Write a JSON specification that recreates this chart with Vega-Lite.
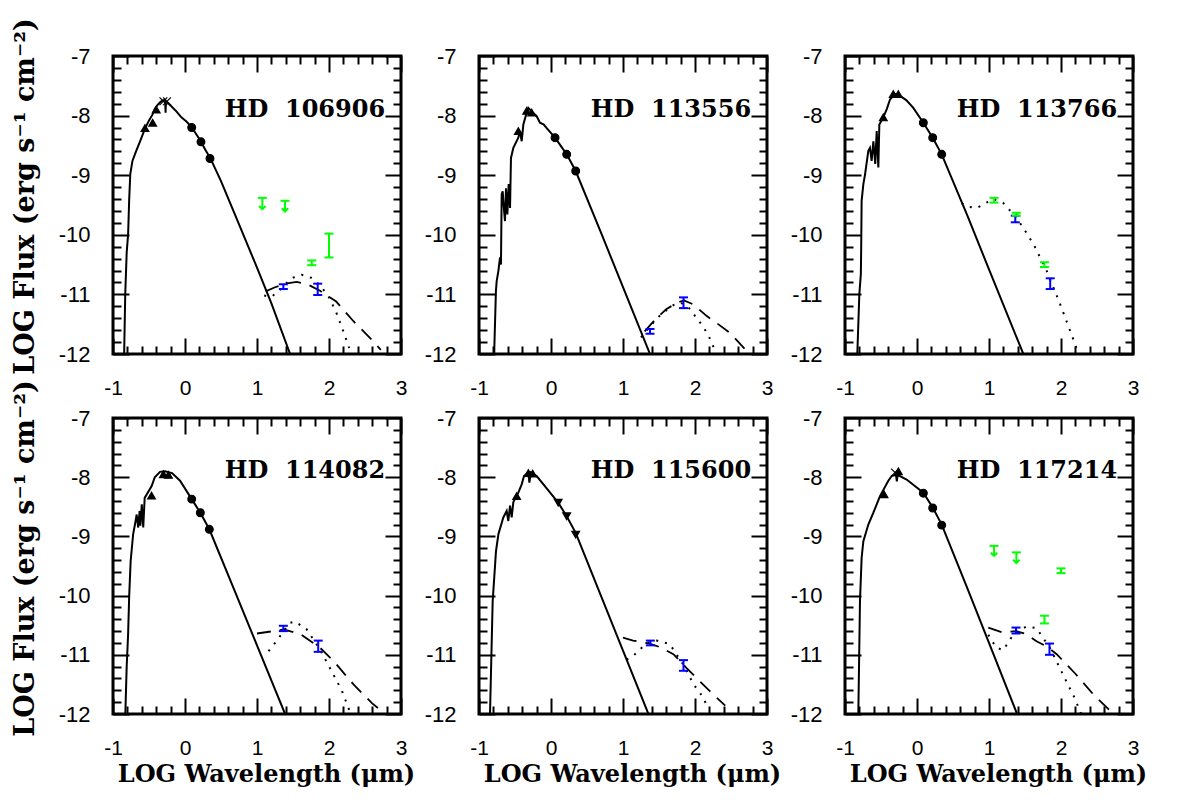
{
"$schema":"https://vega.github.io/schema/vega-lite/v6.json",
"padding":{"left":9,"top":16,"right":5,"bottom":5},
"background":"white",
"datasets":{
"HD 106906":[
{"k":"star","x":-0.85,"y":-12.3},{"k":"star","x":-0.83,"y":-11.0},{"k":"star","x":-0.81,"y":-10.3},{"k":"star","x":-0.79,"y":-9.99},{"k":"star","x":-0.775,"y":-9.4},{"k":"star","x":-0.76,"y":-8.98},{"k":"star","x":-0.73,"y":-8.76},{"k":"star","x":-0.68,"y":-8.6},{"k":"star","x":-0.62,"y":-8.42},{"k":"star","x":-0.56,"y":-8.23},{"k":"star","x":-0.5,"y":-8.08},{"k":"star","x":-0.45,"y":-7.98},{"k":"star","x":-0.42,"y":-7.89},{"k":"star","x":-0.38,"y":-7.82},{"k":"star","x":-0.34,"y":-7.77},{"k":"star","x":-0.3,"y":-7.74},{"k":"star","x":-0.275,"y":-7.75},{"k":"star","x":-0.27,"y":-7.95},{"k":"star","x":-0.265,"y":-7.76},{"k":"star","x":-0.2,"y":-7.83},{"k":"star","x":-0.12,"y":-7.93},{"k":"star","x":-0.05,"y":-8.03},{"k":"star","x":0.02,"y":-8.1},{"k":"star","x":0.09,"y":-8.19},{"k":"star","x":0.15,"y":-8.3},{"k":"star","x":0.22,"y":-8.43},{"k":"star","x":0.28,"y":-8.57},{"k":"star","x":0.35,"y":-8.71},{"k":"star","x":0.5,"y":-9.1},{"k":"star","x":0.7,"y":-9.68},{"k":"star","x":1.0,"y":-10.55},{"k":"star","x":1.2,"y":-11.15},{"k":"star","x":1.46,"y":-12.0},{"k":"star","x":1.5,"y":-12.13},
{"k":"phot","s":"tri","x":-0.556,"y":-8.21},{"k":"phot","s":"tri","x":-0.449,"y":-8.12},{"k":"phot","s":"tri","x":-0.4,"y":-7.9},{"k":"phot","s":"cross","x":-0.3,"y":-7.76},{"k":"phot","s":"cross","x":-0.25,"y":-7.76},{"k":"phot","s":"circ","x":0.093,"y":-8.2},{"k":"phot","s":"circ","x":0.222,"y":-8.44},{"k":"phot","s":"circ","x":0.347,"y":-8.72},
{"k":"dash","x":1.12,"y":-10.95},{"k":"dash","x":1.25,"y":-10.88},{"k":"dash","x":1.4,"y":-10.82},{"k":"dash","x":1.55,"y":-10.79},{"k":"dash","x":1.7,"y":-10.83},{"k":"dash","x":1.875,"y":-10.94},{"k":"dash","x":2.1,"y":-11.12},{"k":"dash","x":2.34,"y":-11.45},{"k":"dash","x":2.6,"y":-11.77},{"k":"dash","x":2.72,"y":-11.93},
{"k":"dot","x":1.1,"y":-11.02},{"k":"dot","x":1.2,"y":-11.04},{"k":"dot","x":1.3,"y":-10.95},{"k":"dot","x":1.4,"y":-10.82},{"k":"dot","x":1.5,"y":-10.72},{"k":"dot","x":1.62,"y":-10.67},{"k":"dot","x":1.75,"y":-10.72},{"k":"dot","x":1.88,"y":-10.85},{"k":"dot","x":2.0,"y":-11.05},{"k":"dot","x":2.1,"y":-11.3},{"k":"dot","x":2.2,"y":-11.62},{"k":"dot","x":2.28,"y":-11.9},
{"k":"err","c":"MIPS","x":1.366,"lo":-10.91,"hi":-10.83},{"k":"err","c":"MIPS","x":1.843,"lo":-11.01,"hi":-10.82},{"k":"err","c":"IRAS","x":1.76,"lo":-10.51,"hi":-10.43},{"k":"err","c":"IRAS","x":2.0,"lo":-10.38,"hi":-9.98},
{"k":"ul","c":"IRAS","x":1.074,"lo":-9.57,"hi":-9.38},{"k":"ul","c":"IRAS","x":1.389,"lo":-9.61,"hi":-9.43},
{"k":"label","label":"HD\u00a0\u00a0106906"}
],
"HD 113556":[
{"k":"star","x":-0.79,"y":-12.3},{"k":"star","x":-0.787,"y":-11.89},{"k":"star","x":-0.765,"y":-10.95},{"k":"star","x":-0.755,"y":-10.78},{"k":"star","x":-0.73,"y":-10.6},{"k":"star","x":-0.708,"y":-10.38},{"k":"star","x":-0.695,"y":-10.5},{"k":"star","x":-0.685,"y":-9.32},{"k":"star","x":-0.671,"y":-9.27},{"k":"star","x":-0.655,"y":-9.55},{"k":"star","x":-0.639,"y":-9.77},{"k":"star","x":-0.625,"y":-9.22},{"k":"star","x":-0.606,"y":-9.66},{"k":"star","x":-0.588,"y":-9.15},{"k":"star","x":-0.569,"y":-9.55},{"k":"star","x":-0.556,"y":-8.71},{"k":"star","x":-0.523,"y":-8.54},{"k":"star","x":-0.454,"y":-8.37},{"k":"star","x":-0.431,"y":-8.26},{"k":"star","x":-0.407,"y":-8.43},{"k":"star","x":-0.384,"y":-8.15},{"k":"star","x":-0.338,"y":-7.95},{"k":"star","x":-0.315,"y":-7.87},{"k":"star","x":-0.269,"y":-7.93},{"k":"star","x":-0.199,"y":-8.01},{"k":"star","x":-0.153,"y":-8.12},{"k":"star","x":-0.1,"y":-8.15},{"k":"star","x":-0.06,"y":-8.21},{"k":"star","x":0.056,"y":-8.37},{"k":"star","x":0.218,"y":-8.65},{"k":"star","x":0.343,"y":-8.93},{"k":"star","x":0.7,"y":-9.98},{"k":"star","x":1.0,"y":-10.88},{"k":"star","x":1.375,"y":-12.0},{"k":"star","x":1.42,"y":-12.13},
{"k":"phot","s":"tri","x":-0.454,"y":-8.26},{"k":"phot","s":"tri","x":-0.338,"y":-7.92},{"k":"phot","s":"tri","x":-0.269,"y":-7.95},{"k":"phot","s":"circ","x":0.056,"y":-8.37},{"k":"phot","s":"circ","x":0.218,"y":-8.65},{"k":"phot","s":"circ","x":0.343,"y":-8.93},
{"k":"dash","x":1.3,"y":-11.62},{"k":"dash","x":1.45,"y":-11.42},{"k":"dash","x":1.6,"y":-11.25},{"k":"dash","x":1.75,"y":-11.14},{"k":"dash","x":1.85,"y":-11.1},{"k":"dash","x":1.98,"y":-11.17},{"k":"dash","x":2.16,"y":-11.36},{"k":"dash","x":2.3,"y":-11.48},{"k":"dash","x":2.49,"y":-11.65},{"k":"dash","x":2.74,"y":-11.98},
{"k":"dot","x":1.25,"y":-11.72},{"k":"dot","x":1.4,"y":-11.5},{"k":"dot","x":1.5,"y":-11.37},{"k":"dot","x":1.6,"y":-11.27},{"k":"dot","x":1.7,"y":-11.18},{"k":"dot","x":1.8,"y":-11.14},{"k":"dot","x":1.9,"y":-11.2},{"k":"dot","x":1.98,"y":-11.33},{"k":"dot","x":2.1,"y":-11.52},{"k":"dot","x":2.18,"y":-11.67},{"k":"dot","x":2.3,"y":-12.0},
{"k":"err","c":"MIPS","x":1.375,"lo":-11.66,"hi":-11.58},{"k":"err","c":"MIPS","x":1.84,"lo":-11.23,"hi":-11.05},
{"k":"label","label":"HD\u00a0\u00a0113556"}
],
"HD 113766":[
{"k":"star","x":-0.835,"y":-12.3},{"k":"star","x":-0.829,"y":-12.0},{"k":"star","x":-0.801,"y":-11.0},{"k":"star","x":-0.78,"y":-10.66},{"k":"star","x":-0.775,"y":-10.2},{"k":"star","x":-0.769,"y":-9.43},{"k":"star","x":-0.745,"y":-9.15},{"k":"star","x":-0.722,"y":-8.99},{"k":"star","x":-0.676,"y":-8.59},{"k":"star","x":-0.653,"y":-8.54},{"k":"star","x":-0.63,"y":-8.76},{"k":"star","x":-0.606,"y":-8.43},{"k":"star","x":-0.58,"y":-8.81},{"k":"star","x":-0.56,"y":-8.26},{"k":"star","x":-0.537,"y":-8.87},{"k":"star","x":-0.523,"y":-8.15},{"k":"star","x":-0.468,"y":-8.03},{"k":"star","x":-0.42,"y":-7.89},{"k":"star","x":-0.375,"y":-7.73},{"k":"star","x":-0.306,"y":-7.64},{"k":"star","x":-0.26,"y":-7.65},{"k":"star","x":-0.15,"y":-7.74},{"k":"star","x":-0.051,"y":-7.87},{"k":"star","x":0.088,"y":-8.12},{"k":"star","x":0.218,"y":-8.37},{"k":"star","x":0.343,"y":-8.65},{"k":"star","x":0.7,"y":-9.68},{"k":"star","x":1.0,"y":-10.58},{"k":"star","x":1.477,"y":-12.0},{"k":"star","x":1.52,"y":-12.13},
{"k":"phot","s":"tri","x":-0.468,"y":-8.03},{"k":"phot","s":"tri","x":-0.33,"y":-7.64},{"k":"phot","s":"tri","x":-0.26,"y":-7.64},{"k":"phot","s":"circ","x":0.088,"y":-8.12},{"k":"phot","s":"circ","x":0.218,"y":-8.37},{"k":"phot","s":"circ","x":0.343,"y":-8.65},
{"k":"dot","x":0.62,"y":-9.47},{"k":"dot","x":0.72,"y":-9.53},{"k":"dot","x":0.83,"y":-9.55},{"k":"dot","x":0.95,"y":-9.47},{"k":"dot","x":1.06,"y":-9.4},{"k":"dot","x":1.2,"y":-9.47},{"k":"dot","x":1.38,"y":-9.71},{"k":"dot","x":1.5,"y":-9.93},{"k":"dot","x":1.62,"y":-10.16},{"k":"dot","x":1.8,"y":-10.6},{"k":"dot","x":1.99,"y":-11.17},{"k":"dot","x":2.17,"y":-11.75},{"k":"dot","x":2.25,"y":-12.02},
{"k":"err","c":"IRAS","x":1.07,"lo":-9.46,"hi":-9.38},{"k":"err","c":"IRAS","x":1.38,"lo":-9.68,"hi":-9.63},{"k":"err","c":"IRAS","x":1.77,"lo":-10.54,"hi":-10.46},{"k":"err","c":"MIPS","x":1.365,"lo":-9.79,"hi":-9.68},{"k":"err","c":"MIPS","x":1.85,"lo":-10.91,"hi":-10.73},
{"k":"label","label":"HD\u00a0\u00a0113766"}
],
"HD 114082":[
{"k":"star","x":-0.835,"y":-12.3},{"k":"star","x":-0.83,"y":-12.05},{"k":"star","x":-0.81,"y":-11.2},{"k":"star","x":-0.79,"y":-10.65},{"k":"star","x":-0.775,"y":-10.0},{"k":"star","x":-0.755,"y":-9.42},{"k":"star","x":-0.72,"y":-8.96},{"k":"star","x":-0.695,"y":-8.8},{"k":"star","x":-0.671,"y":-8.63},{"k":"star","x":-0.65,"y":-8.85},{"k":"star","x":-0.63,"y":-8.57},{"k":"star","x":-0.62,"y":-8.82},{"k":"star","x":-0.6,"y":-8.46},{"k":"star","x":-0.58,"y":-8.85},{"k":"star","x":-0.56,"y":-8.35},{"k":"star","x":-0.463,"y":-8.15},{"k":"star","x":-0.42,"y":-8.0},{"k":"star","x":-0.347,"y":-7.91},{"k":"star","x":-0.278,"y":-7.9},{"k":"star","x":-0.18,"y":-7.93},{"k":"star","x":-0.069,"y":-8.06},{"k":"star","x":0.093,"y":-8.37},{"k":"star","x":0.213,"y":-8.6},{"k":"star","x":0.338,"y":-8.88},{"k":"star","x":0.7,"y":-9.95},{"k":"star","x":1.0,"y":-10.84},{"k":"star","x":1.39,"y":-12.0},{"k":"star","x":1.43,"y":-12.12},
{"k":"phot","s":"tri","x":-0.465,"y":-8.31},{"k":"phot","s":"tri","x":-0.3,"y":-7.95},{"k":"phot","s":"tri","x":-0.23,"y":-7.96},{"k":"phot","s":"circ","x":0.093,"y":-8.37},{"k":"phot","s":"circ","x":0.213,"y":-8.6},{"k":"phot","s":"circ","x":0.338,"y":-8.88},
{"k":"dash","x":1.0,"y":-10.64},{"k":"dash","x":1.23,"y":-10.6},{"k":"dash","x":1.37,"y":-10.57},{"k":"dash","x":1.6,"y":-10.65},{"k":"dash","x":1.875,"y":-10.88},{"k":"dash","x":2.06,"y":-11.1},{"k":"dash","x":2.34,"y":-11.5},{"k":"dash","x":2.6,"y":-11.82},{"k":"dash","x":2.73,"y":-11.95},
{"k":"dot","x":1.16,"y":-10.94},{"k":"dot","x":1.27,"y":-10.77},{"k":"dot","x":1.37,"y":-10.6},{"k":"dot","x":1.46,"y":-10.46},{"k":"dot","x":1.53,"y":-10.44},{"k":"dot","x":1.69,"y":-10.57},{"k":"dot","x":1.875,"y":-10.91},{"k":"dot","x":2.06,"y":-11.33},{"k":"dot","x":2.18,"y":-11.61},{"k":"dot","x":2.28,"y":-11.93},
{"k":"err","c":"MIPS","x":1.366,"lo":-10.6,"hi":-10.51},{"k":"err","c":"MIPS","x":1.85,"lo":-10.95,"hi":-10.76},
{"k":"label","label":"HD\u00a0\u00a0114082"}
],
"HD 115600":[
{"k":"star","x":-0.85,"y":-12.3},{"k":"star","x":-0.847,"y":-11.99},{"k":"star","x":-0.81,"y":-10.09},{"k":"star","x":-0.764,"y":-9.25},{"k":"star","x":-0.73,"y":-8.96},{"k":"star","x":-0.662,"y":-8.68},{"k":"star","x":-0.616,"y":-8.57},{"k":"star","x":-0.593,"y":-8.74},{"k":"star","x":-0.569,"y":-8.48},{"k":"star","x":-0.546,"y":-8.68},{"k":"star","x":-0.523,"y":-8.42},{"k":"star","x":-0.454,"y":-8.26},{"k":"star","x":-0.407,"y":-8.12},{"k":"star","x":-0.375,"y":-7.98},{"k":"star","x":-0.315,"y":-7.92},{"k":"star","x":-0.3,"y":-8.09},{"k":"star","x":-0.28,"y":-7.92},{"k":"star","x":-0.199,"y":-7.98},{"k":"star","x":-0.06,"y":-8.19},{"k":"star","x":0.1,"y":-8.43},{"k":"star","x":0.218,"y":-8.66},{"k":"star","x":0.343,"y":-8.94},{"k":"star","x":0.7,"y":-10.02},{"k":"star","x":1.0,"y":-10.93},{"k":"star","x":1.35,"y":-11.99},{"k":"star","x":1.39,"y":-12.12},
{"k":"phot","s":"tri","x":-0.477,"y":-8.32},{"k":"phot","s":"tri","x":-0.315,"y":-7.93},{"k":"phot","s":"tri","x":-0.255,"y":-7.94},{"k":"phot","s":"tridown","x":0.1,"y":-8.43},{"k":"phot","s":"tridown","x":0.218,"y":-8.66},{"k":"phot","s":"tridown","x":0.343,"y":-8.97},
{"k":"dash","x":1.0,"y":-10.71},{"k":"dash","x":1.14,"y":-10.76},{"k":"dash","x":1.37,"y":-10.81},{"k":"dash","x":1.51,"y":-10.87},{"k":"dash","x":1.7,"y":-10.99},{"k":"dash","x":1.88,"y":-11.22},{"k":"dash","x":2.16,"y":-11.56},{"k":"dash","x":2.42,"y":-11.86},
{"k":"dot","x":1.05,"y":-11.08},{"k":"dot","x":1.14,"y":-11.02},{"k":"dot","x":1.33,"y":-10.8},{"k":"dot","x":1.47,"y":-10.76},{"k":"dot","x":1.65,"y":-10.82},{"k":"dot","x":1.84,"y":-11.17},{"k":"dot","x":1.98,"y":-11.5},{"k":"dot","x":2.12,"y":-11.73},{"k":"dot","x":2.18,"y":-11.92},
{"k":"err","c":"MIPS","x":1.38,"lo":-10.84,"hi":-10.76},{"k":"err","c":"MIPS","x":1.84,"lo":-11.27,"hi":-11.09},
{"k":"label","label":"HD\u00a0\u00a0115600"}
],
"HD 117214":[
{"k":"star","x":-0.82,"y":-12.3},{"k":"star","x":-0.815,"y":-12.0},{"k":"star","x":-0.792,"y":-10.09},{"k":"star","x":-0.769,"y":-9.36},{"k":"star","x":-0.745,"y":-9.08},{"k":"star","x":-0.676,"y":-8.8},{"k":"star","x":-0.606,"y":-8.6},{"k":"star","x":-0.514,"y":-8.32},{"k":"star","x":-0.398,"y":-8.06},{"k":"star","x":-0.352,"y":-7.98},{"k":"star","x":-0.292,"y":-7.96},{"k":"star","x":-0.28,"y":-8.07},{"k":"star","x":-0.27,"y":-7.96},{"k":"star","x":-0.144,"y":-8.04},{"k":"star","x":0.088,"y":-8.26},{"k":"star","x":0.218,"y":-8.51},{"k":"star","x":0.343,"y":-8.8},{"k":"star","x":0.7,"y":-9.88},{"k":"star","x":1.0,"y":-10.8},{"k":"star","x":1.39,"y":-12.0},{"k":"star","x":1.43,"y":-12.12},
{"k":"phot","s":"tri","x":-0.458,"y":-8.29},{"k":"phot","s":"cross","x":-0.306,"y":-7.92},{"k":"phot","s":"tri","x":-0.259,"y":-7.9},{"k":"phot","s":"circ","x":0.088,"y":-8.27},{"k":"phot","s":"circ","x":0.218,"y":-8.52},{"k":"phot","s":"circ","x":0.343,"y":-8.81},
{"k":"dash","x":0.99,"y":-10.54},{"k":"dash","x":1.18,"y":-10.62},{"k":"dash","x":1.37,"y":-10.6},{"k":"dash","x":1.5,"y":-10.64},{"k":"dash","x":1.66,"y":-10.77},{"k":"dash","x":1.8,"y":-10.86},{"k":"dash","x":1.94,"y":-10.99},{"k":"dash","x":2.2,"y":-11.32},{"k":"dash","x":2.45,"y":-11.67},{"k":"dash","x":2.73,"y":-12.0},
{"k":"dot","x":0.99,"y":-10.66},{"k":"dot","x":1.1,"y":-10.88},{"k":"dot","x":1.2,"y":-10.92},{"k":"dot","x":1.34,"y":-10.65},{"k":"dot","x":1.52,"y":-10.52},{"k":"dot","x":1.66,"y":-10.55},{"k":"dot","x":1.85,"y":-10.89},{"k":"dot","x":2.03,"y":-11.34},{"k":"dot","x":2.19,"y":-11.73},{"k":"dot","x":2.28,"y":-12.0},
{"k":"err","c":"MIPS","x":1.375,"lo":-10.64,"hi":-10.54},{"k":"err","c":"MIPS","x":1.84,"lo":-11.0,"hi":-10.81},{"k":"err","c":"IRAS","x":2.0,"lo":-9.62,"hi":-9.54},{"k":"err","c":"IRAS","x":1.77,"lo":-10.47,"hi":-10.34},
{"k":"ul","c":"IRAS","x":1.07,"lo":-9.33,"hi":-9.16},{"k":"ul","c":"IRAS","x":1.38,"lo":-9.45,"hi":-9.27},
{"k":"label","label":"HD\u00a0\u00a0117214"}
]
},
"columns":3,
"spacing":{"row":64,"column":78},
"bounds":"flush",
"concat":[
{"width":288,"height":298,"data":{"name":"HD 106906"},"resolve":{"axis":{"x":"independent","y":"independent"}},
"layer":[
{"transform":[{"filter":"datum.k==='star'"}],"mark":{"type":"line","color":"black","strokeWidth":2,"clip":true},
 "encoding":{"x":{"field":"x","type":"quantitative","scale":{"domain":[-1,3],"nice":false,"zero":false},"axis":{"orient":"bottom","values":[-1,0,1,2,3],"offset":-16,"tickSize":16,"labelPadding":23,"labelExpr":"datum.value < 0 ? '-' + abs(datum.value) : '' + datum.value","title":null}},
 "y":{"field":"y","type":"quantitative","scale":{"domain":[-12,-7],"nice":false,"zero":false},"axis":{"orient":"left","values":[-12,-11,-10,-9,-8,-7],"offset":-16,"tickSize":16,"labelPadding":23,"labelExpr":"datum.value < 0 ? '-' + abs(datum.value) : '' + datum.value","title":"LOG Flux (erg s⁻¹ cm⁻²)"}}}},
{"transform":[{"filter":"datum.k==='dash'"}],"mark":{"type":"line","color":"black","strokeWidth":1.8,"strokeDash":[14,9],"clip":true},
 "encoding":{"x":{"field":"x","type":"quantitative","scale":{"domain":[-1,3],"nice":false,"zero":false},"axis":null},"y":{"field":"y","type":"quantitative","scale":{"domain":[-12,-7],"nice":false,"zero":false},"axis":null}}},
{"transform":[{"filter":"datum.k==='dot'"}],"mark":{"type":"line","color":"black","strokeWidth":2,"strokeDash":[2,7],"clip":true},
 "encoding":{"x":{"field":"x","type":"quantitative","scale":{"domain":[-1,3],"nice":false,"zero":false},"axis":null},"y":{"field":"y","type":"quantitative","scale":{"domain":[-12,-7],"nice":false,"zero":false},"axis":null}}},
{"transform":[{"filter":"datum.k==='phot'"}],"mark":{"type":"point","filled":true,"color":"black","stroke":"black","strokeWidth":1.2,"size":60,"opacity":1},
 "encoding":{"x":{"field":"x","type":"quantitative","scale":{"domain":[-1,3],"nice":false,"zero":false},"axis":{"orient":"bottom","values":[-0.8,-0.6,-0.4,-0.2,0.2,0.4,0.6,0.8,1.2,1.4,1.6,1.8,2.2,2.4,2.6,2.8],"offset":-8,"tickSize":8,"labels":false,"title":null}},
 "y":{"field":"y","type":"quantitative","scale":{"domain":[-12,-7],"nice":false,"zero":false},"axis":{"orient":"left","values":[-11.8,-11.6,-11.4,-11.2,-10.8,-10.6,-10.4,-10.2,-9.8,-9.6,-9.4,-9.2,-8.8,-8.6,-8.4,-8.2,-7.8,-7.6,-7.4,-7.2],"offset":-8,"tickSize":8,"labels":false,"title":null}},
 "shape":{"field":"s","type":"nominal","scale":{"domain":["tri","cross","circ","tridown"],"range":["triangle-up","M-1,-1L1,1M-1,1L1,-1","circle","triangle-down"]},"legend":null}}},
{"transform":[{"filter":"datum.k==='err'||datum.k==='ul'"}],"mark":{"type":"rule","strokeWidth":2},
 "encoding":{"x":{"field":"x","type":"quantitative","scale":{"domain":[-1,3],"nice":false,"zero":false},"axis":{"orient":"top","values":[-1,0,1,2,3],"offset":-16,"tickSize":16,"labels":false,"title":null}},
 "y":{"field":"lo","type":"quantitative","scale":{"domain":[-12,-7],"nice":false,"zero":false},"axis":{"orient":"right","values":[-12,-11,-10,-9,-8,-7],"offset":-16,"tickSize":16,"labels":false,"title":null}},
 "y2":{"field":"hi"},
 "color":{"field":"c","type":"nominal","scale":{"domain":["MIPS","IRAS"],"range":["#0000ff","#00ff00"]},"legend":null}}},
{"transform":[{"filter":"datum.k==='err'||datum.k==='ul'"}],"mark":{"type":"point","shape":"stroke","size":81,"strokeWidth":2,"filled":false,"opacity":1},
 "encoding":{"x":{"field":"x","type":"quantitative","scale":{"domain":[-1,3],"nice":false,"zero":false},"axis":{"orient":"top","values":[-0.8,-0.6,-0.4,-0.2,0.2,0.4,0.6,0.8,1.2,1.4,1.6,1.8,2.2,2.4,2.6,2.8],"offset":-8,"tickSize":8,"labels":false,"title":null}},
 "y":{"field":"hi","type":"quantitative","scale":{"domain":[-12,-7],"nice":false,"zero":false},"axis":{"orient":"right","values":[-11.8,-11.6,-11.4,-11.2,-10.8,-10.6,-10.4,-10.2,-9.8,-9.6,-9.4,-9.2,-8.8,-8.6,-8.4,-8.2,-7.8,-7.6,-7.4,-7.2],"offset":-8,"tickSize":8,"labels":false,"title":null}},
 "color":{"field":"c","type":"nominal","scale":{"domain":["MIPS","IRAS"],"range":["#0000ff","#00ff00"]},"legend":null}}},
{"transform":[{"filter":"datum.k==='err'"}],"mark":{"type":"point","shape":"stroke","size":81,"strokeWidth":2,"filled":false,"opacity":1},
 "encoding":{"x":{"field":"x","type":"quantitative","scale":{"domain":[-1,3],"nice":false,"zero":false},"axis":null},"y":{"field":"lo","type":"quantitative","scale":{"domain":[-12,-7],"nice":false,"zero":false},"axis":null},
 "color":{"field":"c","type":"nominal","scale":{"domain":["MIPS","IRAS"],"range":["#0000ff","#00ff00"]},"legend":null}}},
{"transform":[{"filter":"datum.k==='ul'"}],"mark":{"type":"point","shape":"M-1,-1L0,0L1,-1","size":42,"strokeWidth":2,"filled":false,"opacity":1},
 "encoding":{"x":{"field":"x","type":"quantitative","scale":{"domain":[-1,3],"nice":false,"zero":false},"axis":null},"y":{"field":"lo","type":"quantitative","scale":{"domain":[-12,-7],"nice":false,"zero":false},"axis":null},
 "color":{"field":"c","type":"nominal","scale":{"domain":["MIPS","IRAS"],"range":["#0000ff","#00ff00"]},"legend":null}}},
{"transform":[{"filter":"datum.k==='label'"}],"mark":{"type":"text","align":"right","baseline":"middle","font":"DejaVu Serif","fontWeight":"bold","fontSize":24,"color":"black"},
 "encoding":{"x":{"datum":2.78,"type":"quantitative","scale":{"domain":[-1,3],"nice":false,"zero":false},"axis":null},"y":{"datum":-7.9,"type":"quantitative","scale":{"domain":[-12,-7],"nice":false,"zero":false},"axis":null},"text":{"field":"label"}}}
]},
{"width":288,"height":298,"data":{"name":"HD 113556"},"resolve":{"axis":{"x":"independent","y":"independent"}},
"layer":[
{"transform":[{"filter":"datum.k==='star'"}],"mark":{"type":"line","color":"black","strokeWidth":2,"clip":true},
 "encoding":{"x":{"field":"x","type":"quantitative","scale":{"domain":[-1,3],"nice":false,"zero":false},"axis":{"orient":"bottom","values":[-1,0,1,2,3],"offset":-16,"tickSize":16,"labelPadding":23,"labelExpr":"datum.value < 0 ? '-' + abs(datum.value) : '' + datum.value","title":null}},
 "y":{"field":"y","type":"quantitative","scale":{"domain":[-12,-7],"nice":false,"zero":false},"axis":{"orient":"left","values":[-12,-11,-10,-9,-8,-7],"offset":-16,"tickSize":16,"labelPadding":23,"labelExpr":"datum.value < 0 ? '-' + abs(datum.value) : '' + datum.value","title":null}}}},
{"transform":[{"filter":"datum.k==='dash'"}],"mark":{"type":"line","color":"black","strokeWidth":1.8,"strokeDash":[14,9],"clip":true},
 "encoding":{"x":{"field":"x","type":"quantitative","scale":{"domain":[-1,3],"nice":false,"zero":false},"axis":null},"y":{"field":"y","type":"quantitative","scale":{"domain":[-12,-7],"nice":false,"zero":false},"axis":null}}},
{"transform":[{"filter":"datum.k==='dot'"}],"mark":{"type":"line","color":"black","strokeWidth":2,"strokeDash":[2,7],"clip":true},
 "encoding":{"x":{"field":"x","type":"quantitative","scale":{"domain":[-1,3],"nice":false,"zero":false},"axis":null},"y":{"field":"y","type":"quantitative","scale":{"domain":[-12,-7],"nice":false,"zero":false},"axis":null}}},
{"transform":[{"filter":"datum.k==='phot'"}],"mark":{"type":"point","filled":true,"color":"black","stroke":"black","strokeWidth":1.2,"size":60,"opacity":1},
 "encoding":{"x":{"field":"x","type":"quantitative","scale":{"domain":[-1,3],"nice":false,"zero":false},"axis":{"orient":"bottom","values":[-0.8,-0.6,-0.4,-0.2,0.2,0.4,0.6,0.8,1.2,1.4,1.6,1.8,2.2,2.4,2.6,2.8],"offset":-8,"tickSize":8,"labels":false,"title":null}},
 "y":{"field":"y","type":"quantitative","scale":{"domain":[-12,-7],"nice":false,"zero":false},"axis":{"orient":"left","values":[-11.8,-11.6,-11.4,-11.2,-10.8,-10.6,-10.4,-10.2,-9.8,-9.6,-9.4,-9.2,-8.8,-8.6,-8.4,-8.2,-7.8,-7.6,-7.4,-7.2],"offset":-8,"tickSize":8,"labels":false,"title":null}},
 "shape":{"field":"s","type":"nominal","scale":{"domain":["tri","cross","circ","tridown"],"range":["triangle-up","M-1,-1L1,1M-1,1L1,-1","circle","triangle-down"]},"legend":null}}},
{"transform":[{"filter":"datum.k==='err'||datum.k==='ul'"}],"mark":{"type":"rule","strokeWidth":2},
 "encoding":{"x":{"field":"x","type":"quantitative","scale":{"domain":[-1,3],"nice":false,"zero":false},"axis":{"orient":"top","values":[-1,0,1,2,3],"offset":-16,"tickSize":16,"labels":false,"title":null}},
 "y":{"field":"lo","type":"quantitative","scale":{"domain":[-12,-7],"nice":false,"zero":false},"axis":{"orient":"right","values":[-12,-11,-10,-9,-8,-7],"offset":-16,"tickSize":16,"labels":false,"title":null}},
 "y2":{"field":"hi"},
 "color":{"field":"c","type":"nominal","scale":{"domain":["MIPS","IRAS"],"range":["#0000ff","#00ff00"]},"legend":null}}},
{"transform":[{"filter":"datum.k==='err'||datum.k==='ul'"}],"mark":{"type":"point","shape":"stroke","size":81,"strokeWidth":2,"filled":false,"opacity":1},
 "encoding":{"x":{"field":"x","type":"quantitative","scale":{"domain":[-1,3],"nice":false,"zero":false},"axis":{"orient":"top","values":[-0.8,-0.6,-0.4,-0.2,0.2,0.4,0.6,0.8,1.2,1.4,1.6,1.8,2.2,2.4,2.6,2.8],"offset":-8,"tickSize":8,"labels":false,"title":null}},
 "y":{"field":"hi","type":"quantitative","scale":{"domain":[-12,-7],"nice":false,"zero":false},"axis":{"orient":"right","values":[-11.8,-11.6,-11.4,-11.2,-10.8,-10.6,-10.4,-10.2,-9.8,-9.6,-9.4,-9.2,-8.8,-8.6,-8.4,-8.2,-7.8,-7.6,-7.4,-7.2],"offset":-8,"tickSize":8,"labels":false,"title":null}},
 "color":{"field":"c","type":"nominal","scale":{"domain":["MIPS","IRAS"],"range":["#0000ff","#00ff00"]},"legend":null}}},
{"transform":[{"filter":"datum.k==='err'"}],"mark":{"type":"point","shape":"stroke","size":81,"strokeWidth":2,"filled":false,"opacity":1},
 "encoding":{"x":{"field":"x","type":"quantitative","scale":{"domain":[-1,3],"nice":false,"zero":false},"axis":null},"y":{"field":"lo","type":"quantitative","scale":{"domain":[-12,-7],"nice":false,"zero":false},"axis":null},
 "color":{"field":"c","type":"nominal","scale":{"domain":["MIPS","IRAS"],"range":["#0000ff","#00ff00"]},"legend":null}}},
{"transform":[{"filter":"datum.k==='label'"}],"mark":{"type":"text","align":"right","baseline":"middle","font":"DejaVu Serif","fontWeight":"bold","fontSize":24,"color":"black"},
 "encoding":{"x":{"datum":2.78,"type":"quantitative","scale":{"domain":[-1,3],"nice":false,"zero":false},"axis":null},"y":{"datum":-7.9,"type":"quantitative","scale":{"domain":[-12,-7],"nice":false,"zero":false},"axis":null},"text":{"field":"label"}}}
]},
{"width":288,"height":298,"data":{"name":"HD 113766"},"resolve":{"axis":{"x":"independent","y":"independent"}},
"layer":[
{"transform":[{"filter":"datum.k==='star'"}],"mark":{"type":"line","color":"black","strokeWidth":2,"clip":true},
 "encoding":{"x":{"field":"x","type":"quantitative","scale":{"domain":[-1,3],"nice":false,"zero":false},"axis":{"orient":"bottom","values":[-1,0,1,2,3],"offset":-16,"tickSize":16,"labelPadding":23,"labelExpr":"datum.value < 0 ? '-' + abs(datum.value) : '' + datum.value","title":null}},
 "y":{"field":"y","type":"quantitative","scale":{"domain":[-12,-7],"nice":false,"zero":false},"axis":{"orient":"left","values":[-12,-11,-10,-9,-8,-7],"offset":-16,"tickSize":16,"labelPadding":23,"labelExpr":"datum.value < 0 ? '-' + abs(datum.value) : '' + datum.value","title":null}}}},
{"transform":[{"filter":"datum.k==='dot'"}],"mark":{"type":"line","color":"black","strokeWidth":2,"strokeDash":[2,7],"clip":true},
 "encoding":{"x":{"field":"x","type":"quantitative","scale":{"domain":[-1,3],"nice":false,"zero":false},"axis":null},"y":{"field":"y","type":"quantitative","scale":{"domain":[-12,-7],"nice":false,"zero":false},"axis":null}}},
{"transform":[{"filter":"datum.k==='phot'"}],"mark":{"type":"point","filled":true,"color":"black","stroke":"black","strokeWidth":1.2,"size":60,"opacity":1},
 "encoding":{"x":{"field":"x","type":"quantitative","scale":{"domain":[-1,3],"nice":false,"zero":false},"axis":{"orient":"bottom","values":[-0.8,-0.6,-0.4,-0.2,0.2,0.4,0.6,0.8,1.2,1.4,1.6,1.8,2.2,2.4,2.6,2.8],"offset":-8,"tickSize":8,"labels":false,"title":null}},
 "y":{"field":"y","type":"quantitative","scale":{"domain":[-12,-7],"nice":false,"zero":false},"axis":{"orient":"left","values":[-11.8,-11.6,-11.4,-11.2,-10.8,-10.6,-10.4,-10.2,-9.8,-9.6,-9.4,-9.2,-8.8,-8.6,-8.4,-8.2,-7.8,-7.6,-7.4,-7.2],"offset":-8,"tickSize":8,"labels":false,"title":null}},
 "shape":{"field":"s","type":"nominal","scale":{"domain":["tri","cross","circ","tridown"],"range":["triangle-up","M-1,-1L1,1M-1,1L1,-1","circle","triangle-down"]},"legend":null}}},
{"transform":[{"filter":"datum.k==='err'||datum.k==='ul'"}],"mark":{"type":"rule","strokeWidth":2},
 "encoding":{"x":{"field":"x","type":"quantitative","scale":{"domain":[-1,3],"nice":false,"zero":false},"axis":{"orient":"top","values":[-1,0,1,2,3],"offset":-16,"tickSize":16,"labels":false,"title":null}},
 "y":{"field":"lo","type":"quantitative","scale":{"domain":[-12,-7],"nice":false,"zero":false},"axis":{"orient":"right","values":[-12,-11,-10,-9,-8,-7],"offset":-16,"tickSize":16,"labels":false,"title":null}},
 "y2":{"field":"hi"},
 "color":{"field":"c","type":"nominal","scale":{"domain":["MIPS","IRAS"],"range":["#0000ff","#00ff00"]},"legend":null}}},
{"transform":[{"filter":"datum.k==='err'||datum.k==='ul'"}],"mark":{"type":"point","shape":"stroke","size":81,"strokeWidth":2,"filled":false,"opacity":1},
 "encoding":{"x":{"field":"x","type":"quantitative","scale":{"domain":[-1,3],"nice":false,"zero":false},"axis":{"orient":"top","values":[-0.8,-0.6,-0.4,-0.2,0.2,0.4,0.6,0.8,1.2,1.4,1.6,1.8,2.2,2.4,2.6,2.8],"offset":-8,"tickSize":8,"labels":false,"title":null}},
 "y":{"field":"hi","type":"quantitative","scale":{"domain":[-12,-7],"nice":false,"zero":false},"axis":{"orient":"right","values":[-11.8,-11.6,-11.4,-11.2,-10.8,-10.6,-10.4,-10.2,-9.8,-9.6,-9.4,-9.2,-8.8,-8.6,-8.4,-8.2,-7.8,-7.6,-7.4,-7.2],"offset":-8,"tickSize":8,"labels":false,"title":null}},
 "color":{"field":"c","type":"nominal","scale":{"domain":["MIPS","IRAS"],"range":["#0000ff","#00ff00"]},"legend":null}}},
{"transform":[{"filter":"datum.k==='err'"}],"mark":{"type":"point","shape":"stroke","size":81,"strokeWidth":2,"filled":false,"opacity":1},
 "encoding":{"x":{"field":"x","type":"quantitative","scale":{"domain":[-1,3],"nice":false,"zero":false},"axis":null},"y":{"field":"lo","type":"quantitative","scale":{"domain":[-12,-7],"nice":false,"zero":false},"axis":null},
 "color":{"field":"c","type":"nominal","scale":{"domain":["MIPS","IRAS"],"range":["#0000ff","#00ff00"]},"legend":null}}},
{"transform":[{"filter":"datum.k==='label'"}],"mark":{"type":"text","align":"right","baseline":"middle","font":"DejaVu Serif","fontWeight":"bold","fontSize":24,"color":"black"},
 "encoding":{"x":{"datum":2.78,"type":"quantitative","scale":{"domain":[-1,3],"nice":false,"zero":false},"axis":null},"y":{"datum":-7.9,"type":"quantitative","scale":{"domain":[-12,-7],"nice":false,"zero":false},"axis":null},"text":{"field":"label"}}}
]},
{"width":288,"height":296,"data":{"name":"HD 114082"},"resolve":{"axis":{"x":"independent","y":"independent"}},
"layer":[
{"transform":[{"filter":"datum.k==='star'"}],"mark":{"type":"line","color":"black","strokeWidth":2,"clip":true},
 "encoding":{"x":{"field":"x","type":"quantitative","scale":{"domain":[-1,3],"nice":false,"zero":false},"axis":{"orient":"bottom","values":[-1,0,1,2,3],"offset":-16,"tickSize":16,"labelPadding":23,"labelExpr":"datum.value < 0 ? '-' + abs(datum.value) : '' + datum.value","title":"LOG Wavelength (μm)"}},
 "y":{"field":"y","type":"quantitative","scale":{"domain":[-12,-7],"nice":false,"zero":false},"axis":{"orient":"left","values":[-12,-11,-10,-9,-8,-7],"offset":-16,"tickSize":16,"labelPadding":23,"labelExpr":"datum.value < 0 ? '-' + abs(datum.value) : '' + datum.value","title":"LOG Flux (erg s⁻¹ cm⁻²)"}}}},
{"transform":[{"filter":"datum.k==='dash'"}],"mark":{"type":"line","color":"black","strokeWidth":1.8,"strokeDash":[14,9],"clip":true},
 "encoding":{"x":{"field":"x","type":"quantitative","scale":{"domain":[-1,3],"nice":false,"zero":false},"axis":null},"y":{"field":"y","type":"quantitative","scale":{"domain":[-12,-7],"nice":false,"zero":false},"axis":null}}},
{"transform":[{"filter":"datum.k==='dot'"}],"mark":{"type":"line","color":"black","strokeWidth":2,"strokeDash":[2,7],"clip":true},
 "encoding":{"x":{"field":"x","type":"quantitative","scale":{"domain":[-1,3],"nice":false,"zero":false},"axis":null},"y":{"field":"y","type":"quantitative","scale":{"domain":[-12,-7],"nice":false,"zero":false},"axis":null}}},
{"transform":[{"filter":"datum.k==='phot'"}],"mark":{"type":"point","filled":true,"color":"black","stroke":"black","strokeWidth":1.2,"size":60,"opacity":1},
 "encoding":{"x":{"field":"x","type":"quantitative","scale":{"domain":[-1,3],"nice":false,"zero":false},"axis":{"orient":"bottom","values":[-0.8,-0.6,-0.4,-0.2,0.2,0.4,0.6,0.8,1.2,1.4,1.6,1.8,2.2,2.4,2.6,2.8],"offset":-8,"tickSize":8,"labels":false,"title":null}},
 "y":{"field":"y","type":"quantitative","scale":{"domain":[-12,-7],"nice":false,"zero":false},"axis":{"orient":"left","values":[-11.8,-11.6,-11.4,-11.2,-10.8,-10.6,-10.4,-10.2,-9.8,-9.6,-9.4,-9.2,-8.8,-8.6,-8.4,-8.2,-7.8,-7.6,-7.4,-7.2],"offset":-8,"tickSize":8,"labels":false,"title":null}},
 "shape":{"field":"s","type":"nominal","scale":{"domain":["tri","cross","circ","tridown"],"range":["triangle-up","M-1,-1L1,1M-1,1L1,-1","circle","triangle-down"]},"legend":null}}},
{"transform":[{"filter":"datum.k==='err'||datum.k==='ul'"}],"mark":{"type":"rule","strokeWidth":2},
 "encoding":{"x":{"field":"x","type":"quantitative","scale":{"domain":[-1,3],"nice":false,"zero":false},"axis":{"orient":"top","values":[-1,0,1,2,3],"offset":-16,"tickSize":16,"labels":false,"title":null}},
 "y":{"field":"lo","type":"quantitative","scale":{"domain":[-12,-7],"nice":false,"zero":false},"axis":{"orient":"right","values":[-12,-11,-10,-9,-8,-7],"offset":-16,"tickSize":16,"labels":false,"title":null}},
 "y2":{"field":"hi"},
 "color":{"field":"c","type":"nominal","scale":{"domain":["MIPS","IRAS"],"range":["#0000ff","#00ff00"]},"legend":null}}},
{"transform":[{"filter":"datum.k==='err'||datum.k==='ul'"}],"mark":{"type":"point","shape":"stroke","size":81,"strokeWidth":2,"filled":false,"opacity":1},
 "encoding":{"x":{"field":"x","type":"quantitative","scale":{"domain":[-1,3],"nice":false,"zero":false},"axis":{"orient":"top","values":[-0.8,-0.6,-0.4,-0.2,0.2,0.4,0.6,0.8,1.2,1.4,1.6,1.8,2.2,2.4,2.6,2.8],"offset":-8,"tickSize":8,"labels":false,"title":null}},
 "y":{"field":"hi","type":"quantitative","scale":{"domain":[-12,-7],"nice":false,"zero":false},"axis":{"orient":"right","values":[-11.8,-11.6,-11.4,-11.2,-10.8,-10.6,-10.4,-10.2,-9.8,-9.6,-9.4,-9.2,-8.8,-8.6,-8.4,-8.2,-7.8,-7.6,-7.4,-7.2],"offset":-8,"tickSize":8,"labels":false,"title":null}},
 "color":{"field":"c","type":"nominal","scale":{"domain":["MIPS","IRAS"],"range":["#0000ff","#00ff00"]},"legend":null}}},
{"transform":[{"filter":"datum.k==='err'"}],"mark":{"type":"point","shape":"stroke","size":81,"strokeWidth":2,"filled":false,"opacity":1},
 "encoding":{"x":{"field":"x","type":"quantitative","scale":{"domain":[-1,3],"nice":false,"zero":false},"axis":null},"y":{"field":"lo","type":"quantitative","scale":{"domain":[-12,-7],"nice":false,"zero":false},"axis":null},
 "color":{"field":"c","type":"nominal","scale":{"domain":["MIPS","IRAS"],"range":["#0000ff","#00ff00"]},"legend":null}}},
{"transform":[{"filter":"datum.k==='label'"}],"mark":{"type":"text","align":"right","baseline":"middle","font":"DejaVu Serif","fontWeight":"bold","fontSize":24,"color":"black"},
 "encoding":{"x":{"datum":2.78,"type":"quantitative","scale":{"domain":[-1,3],"nice":false,"zero":false},"axis":null},"y":{"datum":-7.9,"type":"quantitative","scale":{"domain":[-12,-7],"nice":false,"zero":false},"axis":null},"text":{"field":"label"}}}
]},
{"width":288,"height":296,"data":{"name":"HD 115600"},"resolve":{"axis":{"x":"independent","y":"independent"}},
"layer":[
{"transform":[{"filter":"datum.k==='star'"}],"mark":{"type":"line","color":"black","strokeWidth":2,"clip":true},
 "encoding":{"x":{"field":"x","type":"quantitative","scale":{"domain":[-1,3],"nice":false,"zero":false},"axis":{"orient":"bottom","values":[-1,0,1,2,3],"offset":-16,"tickSize":16,"labelPadding":23,"labelExpr":"datum.value < 0 ? '-' + abs(datum.value) : '' + datum.value","title":"LOG Wavelength (μm)"}},
 "y":{"field":"y","type":"quantitative","scale":{"domain":[-12,-7],"nice":false,"zero":false},"axis":{"orient":"left","values":[-12,-11,-10,-9,-8,-7],"offset":-16,"tickSize":16,"labelPadding":23,"labelExpr":"datum.value < 0 ? '-' + abs(datum.value) : '' + datum.value","title":null}}}},
{"transform":[{"filter":"datum.k==='dash'"}],"mark":{"type":"line","color":"black","strokeWidth":1.8,"strokeDash":[14,9],"clip":true},
 "encoding":{"x":{"field":"x","type":"quantitative","scale":{"domain":[-1,3],"nice":false,"zero":false},"axis":null},"y":{"field":"y","type":"quantitative","scale":{"domain":[-12,-7],"nice":false,"zero":false},"axis":null}}},
{"transform":[{"filter":"datum.k==='dot'"}],"mark":{"type":"line","color":"black","strokeWidth":2,"strokeDash":[2,7],"clip":true},
 "encoding":{"x":{"field":"x","type":"quantitative","scale":{"domain":[-1,3],"nice":false,"zero":false},"axis":null},"y":{"field":"y","type":"quantitative","scale":{"domain":[-12,-7],"nice":false,"zero":false},"axis":null}}},
{"transform":[{"filter":"datum.k==='phot'"}],"mark":{"type":"point","filled":true,"color":"black","stroke":"black","strokeWidth":1.2,"size":60,"opacity":1},
 "encoding":{"x":{"field":"x","type":"quantitative","scale":{"domain":[-1,3],"nice":false,"zero":false},"axis":{"orient":"bottom","values":[-0.8,-0.6,-0.4,-0.2,0.2,0.4,0.6,0.8,1.2,1.4,1.6,1.8,2.2,2.4,2.6,2.8],"offset":-8,"tickSize":8,"labels":false,"title":null}},
 "y":{"field":"y","type":"quantitative","scale":{"domain":[-12,-7],"nice":false,"zero":false},"axis":{"orient":"left","values":[-11.8,-11.6,-11.4,-11.2,-10.8,-10.6,-10.4,-10.2,-9.8,-9.6,-9.4,-9.2,-8.8,-8.6,-8.4,-8.2,-7.8,-7.6,-7.4,-7.2],"offset":-8,"tickSize":8,"labels":false,"title":null}},
 "shape":{"field":"s","type":"nominal","scale":{"domain":["tri","cross","circ","tridown"],"range":["triangle-up","M-1,-1L1,1M-1,1L1,-1","circle","triangle-down"]},"legend":null}}},
{"transform":[{"filter":"datum.k==='err'||datum.k==='ul'"}],"mark":{"type":"rule","strokeWidth":2},
 "encoding":{"x":{"field":"x","type":"quantitative","scale":{"domain":[-1,3],"nice":false,"zero":false},"axis":{"orient":"top","values":[-1,0,1,2,3],"offset":-16,"tickSize":16,"labels":false,"title":null}},
 "y":{"field":"lo","type":"quantitative","scale":{"domain":[-12,-7],"nice":false,"zero":false},"axis":{"orient":"right","values":[-12,-11,-10,-9,-8,-7],"offset":-16,"tickSize":16,"labels":false,"title":null}},
 "y2":{"field":"hi"},
 "color":{"field":"c","type":"nominal","scale":{"domain":["MIPS","IRAS"],"range":["#0000ff","#00ff00"]},"legend":null}}},
{"transform":[{"filter":"datum.k==='err'||datum.k==='ul'"}],"mark":{"type":"point","shape":"stroke","size":81,"strokeWidth":2,"filled":false,"opacity":1},
 "encoding":{"x":{"field":"x","type":"quantitative","scale":{"domain":[-1,3],"nice":false,"zero":false},"axis":{"orient":"top","values":[-0.8,-0.6,-0.4,-0.2,0.2,0.4,0.6,0.8,1.2,1.4,1.6,1.8,2.2,2.4,2.6,2.8],"offset":-8,"tickSize":8,"labels":false,"title":null}},
 "y":{"field":"hi","type":"quantitative","scale":{"domain":[-12,-7],"nice":false,"zero":false},"axis":{"orient":"right","values":[-11.8,-11.6,-11.4,-11.2,-10.8,-10.6,-10.4,-10.2,-9.8,-9.6,-9.4,-9.2,-8.8,-8.6,-8.4,-8.2,-7.8,-7.6,-7.4,-7.2],"offset":-8,"tickSize":8,"labels":false,"title":null}},
 "color":{"field":"c","type":"nominal","scale":{"domain":["MIPS","IRAS"],"range":["#0000ff","#00ff00"]},"legend":null}}},
{"transform":[{"filter":"datum.k==='err'"}],"mark":{"type":"point","shape":"stroke","size":81,"strokeWidth":2,"filled":false,"opacity":1},
 "encoding":{"x":{"field":"x","type":"quantitative","scale":{"domain":[-1,3],"nice":false,"zero":false},"axis":null},"y":{"field":"lo","type":"quantitative","scale":{"domain":[-12,-7],"nice":false,"zero":false},"axis":null},
 "color":{"field":"c","type":"nominal","scale":{"domain":["MIPS","IRAS"],"range":["#0000ff","#00ff00"]},"legend":null}}},
{"transform":[{"filter":"datum.k==='label'"}],"mark":{"type":"text","align":"right","baseline":"middle","font":"DejaVu Serif","fontWeight":"bold","fontSize":24,"color":"black"},
 "encoding":{"x":{"datum":2.78,"type":"quantitative","scale":{"domain":[-1,3],"nice":false,"zero":false},"axis":null},"y":{"datum":-7.9,"type":"quantitative","scale":{"domain":[-12,-7],"nice":false,"zero":false},"axis":null},"text":{"field":"label"}}}
]},
{"width":288,"height":296,"data":{"name":"HD 117214"},"resolve":{"axis":{"x":"independent","y":"independent"}},
"layer":[
{"transform":[{"filter":"datum.k==='star'"}],"mark":{"type":"line","color":"black","strokeWidth":2,"clip":true},
 "encoding":{"x":{"field":"x","type":"quantitative","scale":{"domain":[-1,3],"nice":false,"zero":false},"axis":{"orient":"bottom","values":[-1,0,1,2,3],"offset":-16,"tickSize":16,"labelPadding":23,"labelExpr":"datum.value < 0 ? '-' + abs(datum.value) : '' + datum.value","title":"LOG Wavelength (μm)"}},
 "y":{"field":"y","type":"quantitative","scale":{"domain":[-12,-7],"nice":false,"zero":false},"axis":{"orient":"left","values":[-12,-11,-10,-9,-8,-7],"offset":-16,"tickSize":16,"labelPadding":23,"labelExpr":"datum.value < 0 ? '-' + abs(datum.value) : '' + datum.value","title":null}}}},
{"transform":[{"filter":"datum.k==='dash'"}],"mark":{"type":"line","color":"black","strokeWidth":1.8,"strokeDash":[14,9],"clip":true},
 "encoding":{"x":{"field":"x","type":"quantitative","scale":{"domain":[-1,3],"nice":false,"zero":false},"axis":null},"y":{"field":"y","type":"quantitative","scale":{"domain":[-12,-7],"nice":false,"zero":false},"axis":null}}},
{"transform":[{"filter":"datum.k==='dot'"}],"mark":{"type":"line","color":"black","strokeWidth":2,"strokeDash":[2,7],"clip":true},
 "encoding":{"x":{"field":"x","type":"quantitative","scale":{"domain":[-1,3],"nice":false,"zero":false},"axis":null},"y":{"field":"y","type":"quantitative","scale":{"domain":[-12,-7],"nice":false,"zero":false},"axis":null}}},
{"transform":[{"filter":"datum.k==='phot'"}],"mark":{"type":"point","filled":true,"color":"black","stroke":"black","strokeWidth":1.2,"size":60,"opacity":1},
 "encoding":{"x":{"field":"x","type":"quantitative","scale":{"domain":[-1,3],"nice":false,"zero":false},"axis":{"orient":"bottom","values":[-0.8,-0.6,-0.4,-0.2,0.2,0.4,0.6,0.8,1.2,1.4,1.6,1.8,2.2,2.4,2.6,2.8],"offset":-8,"tickSize":8,"labels":false,"title":null}},
 "y":{"field":"y","type":"quantitative","scale":{"domain":[-12,-7],"nice":false,"zero":false},"axis":{"orient":"left","values":[-11.8,-11.6,-11.4,-11.2,-10.8,-10.6,-10.4,-10.2,-9.8,-9.6,-9.4,-9.2,-8.8,-8.6,-8.4,-8.2,-7.8,-7.6,-7.4,-7.2],"offset":-8,"tickSize":8,"labels":false,"title":null}},
 "shape":{"field":"s","type":"nominal","scale":{"domain":["tri","cross","circ","tridown"],"range":["triangle-up","M-1,-1L1,1M-1,1L1,-1","circle","triangle-down"]},"legend":null}}},
{"transform":[{"filter":"datum.k==='err'||datum.k==='ul'"}],"mark":{"type":"rule","strokeWidth":2},
 "encoding":{"x":{"field":"x","type":"quantitative","scale":{"domain":[-1,3],"nice":false,"zero":false},"axis":{"orient":"top","values":[-1,0,1,2,3],"offset":-16,"tickSize":16,"labels":false,"title":null}},
 "y":{"field":"lo","type":"quantitative","scale":{"domain":[-12,-7],"nice":false,"zero":false},"axis":{"orient":"right","values":[-12,-11,-10,-9,-8,-7],"offset":-16,"tickSize":16,"labels":false,"title":null}},
 "y2":{"field":"hi"},
 "color":{"field":"c","type":"nominal","scale":{"domain":["MIPS","IRAS"],"range":["#0000ff","#00ff00"]},"legend":null}}},
{"transform":[{"filter":"datum.k==='err'||datum.k==='ul'"}],"mark":{"type":"point","shape":"stroke","size":81,"strokeWidth":2,"filled":false,"opacity":1},
 "encoding":{"x":{"field":"x","type":"quantitative","scale":{"domain":[-1,3],"nice":false,"zero":false},"axis":{"orient":"top","values":[-0.8,-0.6,-0.4,-0.2,0.2,0.4,0.6,0.8,1.2,1.4,1.6,1.8,2.2,2.4,2.6,2.8],"offset":-8,"tickSize":8,"labels":false,"title":null}},
 "y":{"field":"hi","type":"quantitative","scale":{"domain":[-12,-7],"nice":false,"zero":false},"axis":{"orient":"right","values":[-11.8,-11.6,-11.4,-11.2,-10.8,-10.6,-10.4,-10.2,-9.8,-9.6,-9.4,-9.2,-8.8,-8.6,-8.4,-8.2,-7.8,-7.6,-7.4,-7.2],"offset":-8,"tickSize":8,"labels":false,"title":null}},
 "color":{"field":"c","type":"nominal","scale":{"domain":["MIPS","IRAS"],"range":["#0000ff","#00ff00"]},"legend":null}}},
{"transform":[{"filter":"datum.k==='err'"}],"mark":{"type":"point","shape":"stroke","size":81,"strokeWidth":2,"filled":false,"opacity":1},
 "encoding":{"x":{"field":"x","type":"quantitative","scale":{"domain":[-1,3],"nice":false,"zero":false},"axis":null},"y":{"field":"lo","type":"quantitative","scale":{"domain":[-12,-7],"nice":false,"zero":false},"axis":null},
 "color":{"field":"c","type":"nominal","scale":{"domain":["MIPS","IRAS"],"range":["#0000ff","#00ff00"]},"legend":null}}},
{"transform":[{"filter":"datum.k==='ul'"}],"mark":{"type":"point","shape":"M-1,-1L0,0L1,-1","size":42,"strokeWidth":2,"filled":false,"opacity":1},
 "encoding":{"x":{"field":"x","type":"quantitative","scale":{"domain":[-1,3],"nice":false,"zero":false},"axis":null},"y":{"field":"lo","type":"quantitative","scale":{"domain":[-12,-7],"nice":false,"zero":false},"axis":null},
 "color":{"field":"c","type":"nominal","scale":{"domain":["MIPS","IRAS"],"range":["#0000ff","#00ff00"]},"legend":null}}},
{"transform":[{"filter":"datum.k==='label'"}],"mark":{"type":"text","align":"right","baseline":"middle","font":"DejaVu Serif","fontWeight":"bold","fontSize":24,"color":"black"},
 "encoding":{"x":{"datum":2.78,"type":"quantitative","scale":{"domain":[-1,3],"nice":false,"zero":false},"axis":null},"y":{"datum":-7.9,"type":"quantitative","scale":{"domain":[-12,-7],"nice":false,"zero":false},"axis":null},"text":{"field":"label"}}}
]}
],
"config":{
"view":{"stroke":"black","strokeWidth":3},
"axis":{"domain":false,"grid":false,"ticks":true,"tickColor":"black","tickWidth":2,"tickOpacity":1,"labelColor":"black","labelFont":"Liberation Sans","labelFontSize":21,"labelFlush":false,"labelOverlap":false,"titleColor":"black","titleFont":"DejaVu Serif","titleFontWeight":"bold"},
"axisX":{"titlePadding":4,"titleFontSize":24,"titleX":153},
"axisY":{"titlePadding":19,"titleFontSize":27,"titleY":140,"labelFontSize":22}
}
}
